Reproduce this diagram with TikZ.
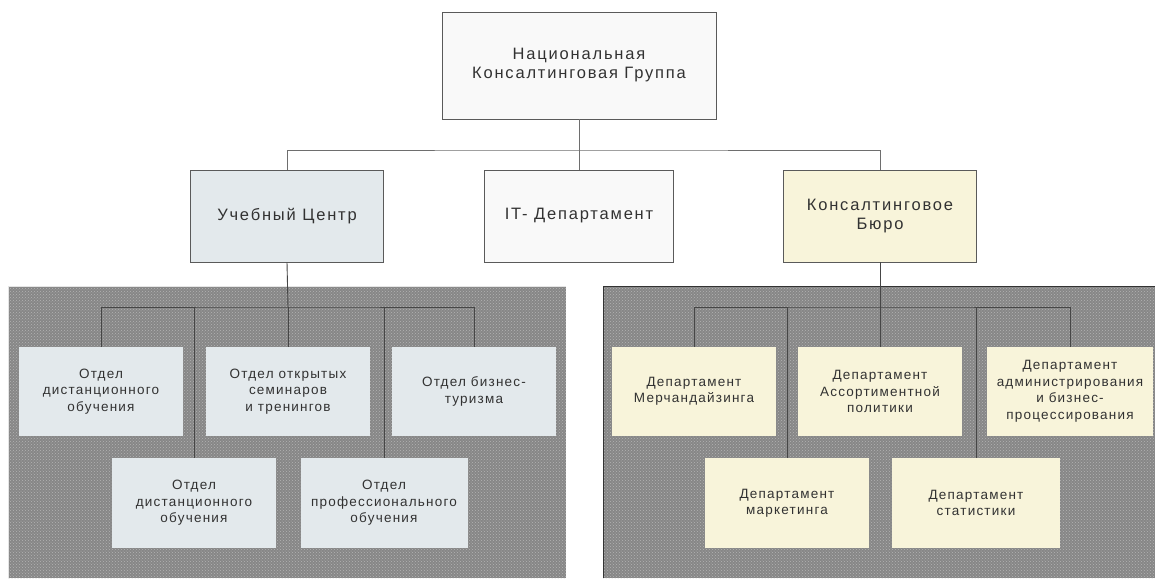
\documentclass[tikz,border=0pt]{standalone}
\usepackage{fontspec}
\setmainfont{Liberation Sans}
\newfontfamily\bigf{Liberation Sans}[LetterSpace=11]
\newfontfamily\smallf{Liberation Sans}[LetterSpace=9]
\usetikzlibrary{patterns}
\definecolor{txt}{RGB}{50,50,50}
\definecolor{bordc}{RGB}{90,90,90}
\definecolor{linec}{RGB}{70,70,70}
\definecolor{toplinec}{RGB}{110,110,110}
\definecolor{whitebox}{RGB}{249,249,249}
\definecolor{bluebox}{RGB}{227,233,236}
\definecolor{yelbox}{RGB}{248,244,218}
\definecolor{panelgray}{RGB}{135,135,135}
\definecolor{paneldots}{RGB}{180,180,180}
\tikzset{
  bigbox/.style={draw=bordc, line width=0.8pt, rectangle, align=center, text=txt,
    font=\bigf\fontsize{16.5}{19}\selectfont, inner sep=0pt},
  smallbox/.style={rectangle, align=center, text=txt, inner sep=0pt,
    font=\smallf\fontsize{13.5}{16.5}\selectfont, minimum width=164pt, minimum height=90pt},
  conn/.style={draw=linec, line width=0.9pt},
  topconn/.style={draw=toplinec, line width=0.9pt},
  panel/.style={fill=panelgray, postaction={pattern=crosshatch dots, pattern color=paneldots}},
}
\begin{document}
\begin{tikzpicture}[x=1pt,y=-1pt]
\useasboundingbox[fill=white] (0,0) rectangle (1155,578);
% panels
\path[panel] (8,286) rectangle (566,578);
\path[panel] (603,286) rectangle (1160,578);
\draw[draw=white!80!gray, line width=1pt] (8.5,578) -- (8.5,286.5) -- (566,286.5);
\draw[draw=gray!40!black, line width=1.2pt] (603.6,578) -- (603.6,286.6) -- (1155,286.6);
% top level
\node[bigbox, fill=whitebox, minimum width=274pt, minimum height=107pt] (top) at (579,65.5) {Национальная\\Консалтинговая Группа};
\node[bigbox, fill=bluebox, minimum width=193pt, minimum height=92pt] (uc) at (287,216) {Учебный Центр};
\node[bigbox, fill=whitebox, minimum width=189pt, minimum height=92pt] (it) at (579,216) {IT- Департамент};
\node[bigbox, fill=yelbox, minimum width=193pt, minimum height=92pt] (kb) at (880,216) {Консалтинговое\\Бюро};
\coordinate (b1) at (579,150);
\draw[topconn] (top.south) -- (b1);
\draw[topconn] (uc.north) |- (b1) -| (kb.north);
\draw[topconn] (it.north) -- (it.north |- b1);
% left panel boxes
\node[smallbox, fill=bluebox, minimum height=89pt] (a) at (101,391.5) {Отдел\\дистанционного\\обучения};
\node[smallbox, fill=bluebox, minimum height=89pt] (b) at (288,391.5) {Отдел открытых\\семинаров\\и тренингов};
\node[smallbox, fill=bluebox, minimum height=89pt] (c) at (474,391.5) {Отдел бизнес-\\туризма};
\node[smallbox, fill=bluebox] (d) at (194,503) {Отдел\\дистанционного\\обучения};
\node[smallbox, fill=bluebox, minimum width=167pt] (e) at (384,503) {Отдел\\профессионального\\обучения};
\coordinate (lb) at (288,307);
\draw[conn] (uc.south) -- (lb);
\draw[conn] (a.north) |- (lb) -| (c.north);
\draw[conn] (b.north) -- (lb);
\draw[conn] (d.north) -- (d.north |- lb);
\draw[conn] (e.north) -- (e.north |- lb);
% right panel boxes
\node[smallbox, fill=yelbox, minimum height=89pt] (f) at (694,391.5) {Департамент\\Мерчандайзинга};
\node[smallbox, fill=yelbox, minimum height=89pt] (g) at (880,391.5) {Департамент\\Ассортиментной\\политики};
\node[smallbox, fill=yelbox, minimum height=89pt, minimum width=166pt] (h) at (1070,391.5) {Департамент\\администрирования\\и бизнес-\\процессирования};
\node[smallbox, fill=yelbox] (i) at (787,503) {Департамент\\маркетинга};
\node[smallbox, fill=yelbox, minimum width=168pt] (j) at (976,503) {Департамент\\статистики};
\coordinate (rb) at (880,307);
\draw[conn] (kb.south) -- (rb);
\draw[conn] (f.north) |- (rb) -| (h.north);
\draw[conn] (g.north) -- (rb);
\draw[conn] (i.north) -- (i.north |- rb);
\draw[conn] (j.north) -- (j.north |- rb);
\end{tikzpicture}
\end{document}
